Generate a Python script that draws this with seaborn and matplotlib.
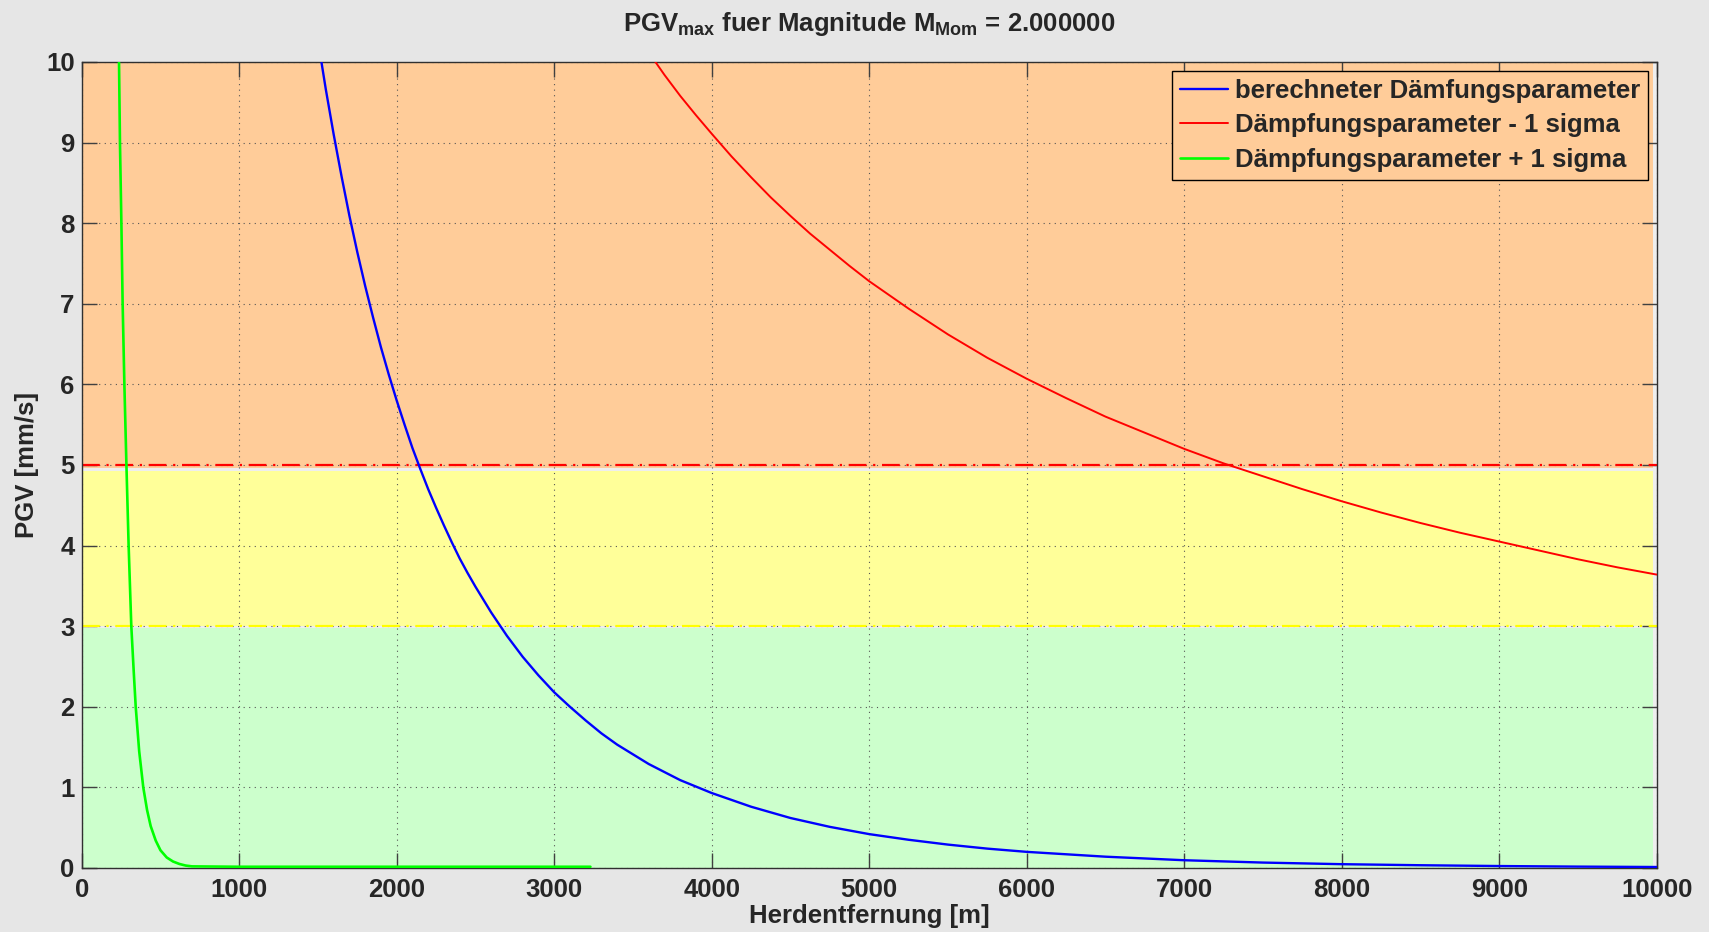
import matplotlib
matplotlib.use("Agg")
import matplotlib.pyplot as plt
import seaborn as sns
import pandas as pd

# PGV attenuation curves (distance in m, PGV in mm/s)
dist_calc = [1500, 1550, 1600, 1650, 1700, 1750, 1800, 1850, 1900, 1950, 2000, 2050,
             2100, 2150, 2200, 2250, 2300, 2350, 2400, 2450, 2500, 2600, 2700, 2800,
             2900, 3000, 3100, 3200, 3300, 3400, 3500, 3600, 3700, 3800, 3900, 4000,
             4250, 4500, 4750, 5000, 5250, 5500, 5750, 6000, 6500, 7000, 7500, 8000,
             8500, 9000, 9500, 10000]
pgv_calc = [10.27, 9.66, 9.10, 8.58, 8.09, 7.64, 7.22, 6.83, 6.46, 6.12, 5.80, 5.50,
            5.21, 4.95, 4.70, 4.47, 4.25, 4.04, 3.84, 3.66, 3.49, 3.17, 2.88, 2.62,
            2.39, 2.18, 2.00, 1.83, 1.67, 1.53, 1.41, 1.29, 1.19, 1.09, 1.01, 0.93,
            0.76, 0.62, 0.51, 0.42, 0.35, 0.29, 0.24, 0.20, 0.14, 0.096, 0.067, 0.047,
            0.034, 0.024, 0.017, 0.012]

dist_minus = [3600, 3700, 3800, 3900, 4000, 4125, 4250, 4375, 4500, 4625, 4750,
              4875, 5000, 5250, 5500, 5750, 6000, 6250, 6500, 6750, 7000, 7250,
              7500, 7750, 8000, 8250, 8500, 8750, 9000, 9250, 9500, 9750, 10000]
pgv_minus = [10.12, 9.84, 9.58, 9.34, 9.11, 8.83, 8.57, 8.32, 8.09, 7.87, 7.67,
             7.47, 7.28, 6.94, 6.62, 6.33, 6.07, 5.83, 5.60, 5.40, 5.20, 5.02,
             4.86, 4.70, 4.55, 4.41, 4.28, 4.16, 4.05, 3.94, 3.83, 3.73, 3.64]

dist_plus = [230, 237, 243, 252, 260, 271, 284, 298, 315, 330, 343, 365, 391, 415,
             438, 470, 500, 540, 580, 620, 660, 700, 1000, 2000, 3230]
pgv_plus = [10.6, 10.0, 9.0, 8.0, 7.0, 6.0, 5.0, 4.0, 3.0, 2.45, 2.0, 1.45, 1.0, 0.72,
            0.52, 0.34, 0.22, 0.13, 0.08, 0.05, 0.03, 0.02, 0.015, 0.015, 0.015]

series_labels = ["berechneter Dämfungsparameter",
                 "Dämpfungsparameter - 1 sigma",
                 "Dämpfungsparameter + 1 sigma"]
series_colors = ["#0000ff", "#ff0000", "#00ff00"]

# warning levels (mm/s)
level_red = 5
level_yellow = 3

x_ticks = [0, 1000, 2000, 3000, 4000, 5000, 6000, 7000, 8000, 9000, 10000]
y_ticks = [0, 1, 2, 3, 4, 5, 6, 7, 8, 9, 10]

FS = 18.5

sns.set_theme(style="white")
plt.rcParams["font.family"] = ["Liberation Sans", "DejaVu Sans"]
plt.rcParams["font.weight"] = "bold"
plt.rcParams["mathtext.fontset"] = "custom"
plt.rcParams["mathtext.rm"] = "Liberation Sans"
plt.rcParams["mathtext.it"] = "Liberation Sans:italic"
plt.rcParams["mathtext.bf"] = "Liberation Sans:bold"
plt.rcParams["axes.axisbelow"] = "line"

fig = plt.figure(figsize=(17.09, 9.32), dpi=100, facecolor="#e6e6e6")
ax = fig.add_axes([0.0478, 0.0687, 0.9216, 0.8648])
ax.set_facecolor("#eeeeee")

# colored warning zones
ax.axhspan(4.96, 10, xmin=0, xmax=0.9975, color="#ffcc99", lw=0, zorder=0.5)
ax.axhspan(3.0, 4.93, xmin=0, xmax=0.9975, color="#ffff99", lw=0, zorder=0.5)
ax.axhspan(0, 2.98, xmin=0, xmax=0.9975, color="#ccffcc", lw=0, zorder=0.5)

frames = [
    pd.DataFrame({"dist": dist_calc, "pgv": pgv_calc}),
    pd.DataFrame({"dist": dist_minus, "pgv": pgv_minus}),
    pd.DataFrame({"dist": dist_plus, "pgv": pgv_plus}),
]
widths = [1.7, 1.4, 1.9]
for df, lab, col, lw in zip(frames, series_labels, series_colors, widths):
    sns.lineplot(data=df, x="dist", y="pgv", ax=ax, color=col, lw=lw, label=lab,
                 sort=False, estimator=None, zorder=3)

ax.axhline(level_red, color="#ff0000", lw=1.6, ls=(0, (8, 3, 1, 3)), zorder=2.5)
ax.axhline(level_yellow, color="#ffff00", lw=1.6, ls=(0, (8, 3, 1, 3)), zorder=2.5)

ax.set_xlim(0, 10000)
ax.set_ylim(0, 10)
ax.set_xticks(x_ticks)
ax.set_yticks(y_ticks)
ax.set_xticklabels([str(v) for v in x_ticks])
ax.set_yticklabels([str(v) for v in y_ticks])
ax.tick_params(axis="both", which="major", direction="in", length=11, width=1,
               color="#404040", labelsize=FS, pad=5,
               top=True, right=True, bottom=True, left=True)
ax.tick_params(axis="x", pad=7)
for lbl in ax.get_xticklabels() + ax.get_yticklabels():
    lbl.set_fontweight("bold")

ax.grid(True, which="major", color="#555555", lw=0.8, ls=(0, (1, 4)))
for sp in ax.spines.values():
    sp.set_color("#303030")
    sp.set_linewidth(1.0)
    sp.set_visible(True)

ax.set_xlabel("Herdentfernung [m]", fontsize=FS, fontweight="bold", labelpad=2)
ax.set_ylabel("PGV [mm/s]", fontsize=FS, fontweight="bold", labelpad=5)
ax.set_title(r"PGV$_{\rm max}$ fuer Magnitude M$_{\rm Mom}$ = 2.000000",
             fontsize=FS, fontweight="bold", pad=22)

leg = ax.legend(loc="upper right", fontsize=FS, frameon=True, fancybox=False,
                edgecolor="#000000", facecolor="#ffcc99", framealpha=1,
                handlelength=1.9, handletextpad=0.25, labelspacing=0.42,
                borderaxespad=0.35, borderpad=0.3)
leg.get_frame().set_linewidth(1.0)
for t in leg.get_texts():
    t.set_fontweight("bold")

fig.savefig("out.png", dpi=100, facecolor=fig.get_facecolor())
